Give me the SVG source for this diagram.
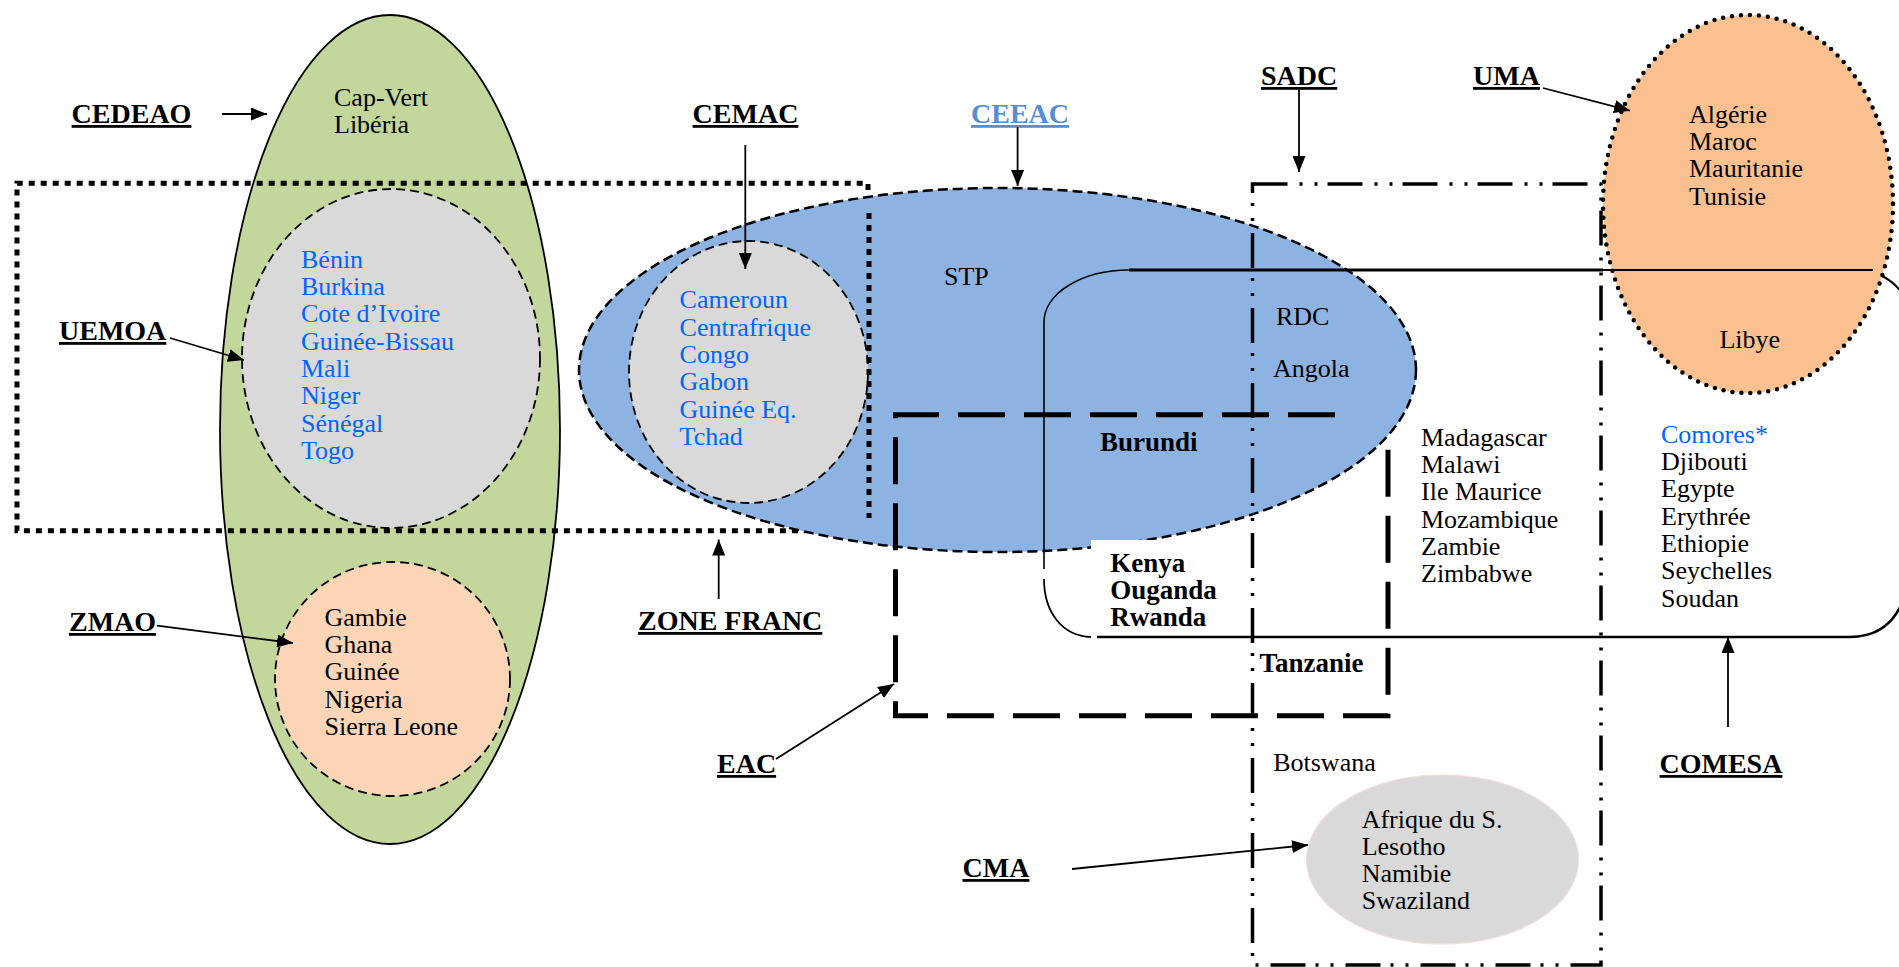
<svg xmlns="http://www.w3.org/2000/svg" width="1899" height="967" viewBox="0 0 1899 967">
<style>
.t{font-family:"Liberation Serif","Times New Roman",serif;font-size:26px;fill:#000}
.b{font-weight:bold;font-size:27px}
.lbl{font-family:"Liberation Serif","Times New Roman",serif;font-weight:bold;font-size:28px;fill:#000;text-decoration:underline}
.blue{fill:#0066ff}
.dash{stroke:#000;stroke-width:1.8;stroke-dasharray:9 5}
.conn{stroke:#000;stroke-width:1.8;fill:none;marker-end:url(#ah)}
</style>
<defs>
<marker id="ah" viewBox="0 0 16 13" refX="16" refY="6.5" markerWidth="16" markerHeight="13" markerUnits="userSpaceOnUse" orient="auto">
<path d="M0,0 L16,6.5 L0,13 z" fill="#000"/>
</marker>
</defs>
<rect width="1899" height="967" fill="#fff"/>

<g id="cedeao">
<ellipse cx="390" cy="429.5" rx="170" ry="414.5" fill="#C3D69B" stroke="#000" stroke-width="1.8"/>
<text class="t" x="334" y="106">Cap-Vert<tspan x="334" dy="27">Libéria</tspan></text>
</g>
<g id="uemoa">
<ellipse cx="391" cy="358.5" rx="149" ry="169.5" fill="#D9D9D9" class="dash"/>
<text class="t blue" x="301" y="267.7">Bénin<tspan x="301" dy="27.3">Burkina</tspan><tspan x="301" dy="27.3">Cote d’Ivoire</tspan><tspan x="301" dy="27.3">Guinée-Bissau</tspan><tspan x="301" dy="27.3">Mali</tspan><tspan x="301" dy="27.3">Niger</tspan><tspan x="301" dy="27.3">Sénégal</tspan><tspan x="301" dy="27.3">Togo</tspan></text>
</g>
<g id="zmao">
<ellipse cx="392.5" cy="679" rx="117.5" ry="117" fill="#FBD5B5" class="dash"/>
<text class="t" x="324.5" y="625.7">Gambie<tspan x="324.5" dy="27.3">Ghana</tspan><tspan x="324.5" dy="27.3">Guinée</tspan><tspan x="324.5" dy="27.3">Nigeria</tspan><tspan x="324.5" dy="27.3">Sierra Leone</tspan></text>
</g>
<g id="zonefranc">
<path d="M868 190 V183.3 H17 V530.7 H868" fill="none" stroke="#000" stroke-width="5" stroke-dasharray="6 6"/>
</g>
<g id="ceeac">
<ellipse cx="997.5" cy="370" rx="418.5" ry="182" fill="#8DB3E2" stroke="#000" stroke-width="2.5" stroke-dasharray="10 5"/>
<text class="t" x="944" y="285">STP</text>
</g>
<g id="cemac">
<ellipse cx="748.5" cy="372" rx="119.5" ry="131" fill="#D9D9D9" class="dash"/>
<text class="t blue" x="679.6" y="308.3">Cameroun<tspan x="679.6" dy="27.3">Centrafrique</tspan><tspan x="679.6" dy="27.3">Congo</tspan><tspan x="679.6" dy="27.3">Gabon</tspan><tspan x="679.6" dy="27.3">Guinée Eq.</tspan><tspan x="679.6" dy="27.3">Tchad</tspan></text>
</g>
<g id="zonefranc-edge">
<line x1="869" y1="213" x2="869" y2="518" stroke="#000" stroke-width="5" stroke-dasharray="6 6"/>
</g>
<rect id="kenya-box" x="1091" y="540" width="158" height="92" fill="#fff"/>
<g id="uma">
<ellipse cx="1748" cy="204" rx="145" ry="189" fill="#FAC090" stroke="#000" stroke-width="4.5" stroke-linecap="round" stroke-dasharray="0 9"/>
<text class="t" x="1689" y="122.7">Algérie<tspan x="1689" dy="27.3">Maroc</tspan><tspan x="1689" dy="27.3">Mauritanie</tspan><tspan x="1689" dy="27.3">Tunisie</tspan></text>
<text class="t" x="1719.4" y="347.7">Libye</text>
</g>
<g id="comesa">
<path d="M1044 569 V322 A85 52 0 0 1 1129 270" fill="none" stroke="#000" stroke-width="1.6"/>
<path d="M1129 270 H1603" fill="none" stroke="#000" stroke-width="3"/>
<path d="M1603 270 H1873" fill="none" stroke="#000" stroke-width="1.8"/>
<path d="M1882 276 Q1898 284 1906 300" fill="none" stroke="#000" stroke-width="2"/>
<path d="M1044 579 C1044 612 1062 636 1091 637" fill="none" stroke="#000" stroke-width="1.8"/>
<path d="M1097 637 H1850 Q1893 637 1906 592" fill="none" stroke="#000" stroke-width="2.5"/>
<text class="t blue" x="1661" y="442.7">Comores*</text>
<text class="t" x="1661" y="470">Djibouti<tspan x="1661" dy="27.3">Egypte</tspan><tspan x="1661" dy="27.3">Erythrée</tspan><tspan x="1661" dy="27.3">Ethiopie</tspan><tspan x="1661" dy="27.3">Seychelles</tspan><tspan x="1661" dy="27.3">Soudan</tspan></text>
</g>
<g id="eac">
<path d="M1335 414.8 H895.5 V715.8 H1388 V434.3" fill="none" stroke="#000" stroke-width="5" stroke-dasharray="47 19"/>
<text class="t b" x="1100" y="451">Burundi</text>
<text class="t b" x="1110.3" y="571.7">Kenya<tspan x="1110.3" dy="27">Ouganda</tspan><tspan x="1110.3" dy="27">Rwanda</tspan></text>
<text class="t b" x="1259.4" y="672">Tanzanie</text>
</g>
<g id="sadc">
<rect x="1252.5" y="184" width="348.5" height="781" fill="none" stroke="#000" stroke-width="3.5" stroke-dasharray="35 12 3 12 3 10"/>
<text class="t" x="1276" y="325">RDC</text>
<text class="t" x="1273" y="376.5">Angola</text>
<text class="t" x="1421" y="445.7">Madagascar<tspan x="1421" dy="27.3">Malawi</tspan><tspan x="1421" dy="27.3">Ile Maurice</tspan><tspan x="1421" dy="27.3">Mozambique</tspan><tspan x="1421" dy="27.3">Zambie</tspan><tspan x="1421" dy="27.3">Zimbabwe</tspan></text>
<text class="t" x="1273.2" y="771.2">Botswana</text>
</g>
<g id="cma">
<ellipse cx="1442.5" cy="859.5" rx="136" ry="84.5" fill="#D9D9D9" stroke="#F2DCDB" stroke-width="1.2"/>
<text class="t" x="1361.7" y="828.3">Afrique du S.<tspan x="1361.7" dy="27">Lesotho</tspan><tspan x="1361.7" dy="27">Namibie</tspan><tspan x="1361.7" dy="27">Swaziland</tspan></text>
</g>

<g id="labels">
<text class="lbl" x="71.6" y="123">CEDEAO</text>
<text class="lbl" x="59" y="340">UEMOA</text>
<text class="lbl" x="69" y="631">ZMAO</text>
<text class="lbl" x="692.6" y="123">CEMAC</text>
<text class="lbl" x="971" y="123" style="fill:#558ED5">CEEAC</text>
<text class="lbl" x="1261" y="85">SADC</text>
<text class="lbl" x="1473" y="85">UMA</text>
<text class="lbl" x="638" y="630">ZONE FRANC</text>
<text class="lbl" x="717" y="773">EAC</text>
<text class="lbl" x="962.5" y="877">CMA</text>
<text class="lbl" x="1659.5" y="773">COMESA</text>
</g>

<g id="connectors">
<line class="conn" x1="222" y1="114" x2="267" y2="114"/>
<line class="conn" x1="170" y1="338" x2="244" y2="360"/>
<line class="conn" x1="157" y1="625.7" x2="293" y2="643"/>
<line class="conn" x1="745.3" y1="145" x2="745.3" y2="269"/>
<line class="conn" x1="1017.6" y1="127" x2="1017.6" y2="186"/>
<line class="conn" x1="1299" y1="88" x2="1299" y2="172"/>
<line class="conn" x1="1543" y1="88" x2="1630" y2="110.7"/>
<line class="conn" x1="718.7" y1="599" x2="718.7" y2="539.5"/>
<line class="conn" x1="776" y1="759" x2="894" y2="684"/>
<line class="conn" x1="1072" y1="869" x2="1308" y2="845"/>
<line class="conn" x1="1728" y1="727" x2="1728" y2="637"/>
</g>
</svg>
